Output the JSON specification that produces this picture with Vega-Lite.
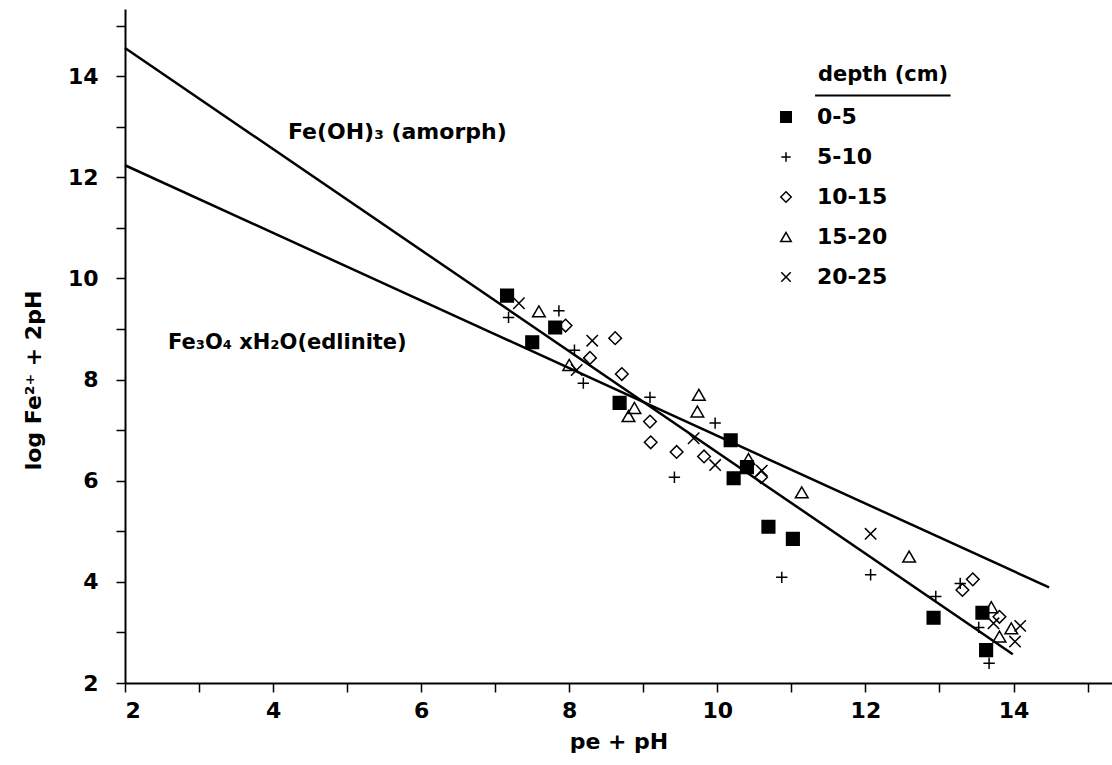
{
  "$schema": "https://vega.github.io/schema/vega-lite/v6.json",
  "width": 987,
  "height": 674,
  "autosize": {"type": "none"},
  "padding": {"left": 125, "top": 9, "right": 0, "bottom": 82},
  "background": "white",
  "config": {
    "view": {"stroke": null},
    "font": "DejaVu Sans",
    "axis": {
      "grid": false,
      "domainColor": "black",
      "domainWidth": 2,
      "tickColor": "black",
      "tickWidth": 1.5,
      "tickSize": 9,
      "labelFont": "DejaVu Sans",
      "labelFontSize": 22,
      "labelFontWeight": "bold",
      "labelColor": "black",
      "titleFont": "DejaVu Sans",
      "titleFontSize": 22,
      "titleFontWeight": "bold",
      "titleColor": "black"
    }
  },
  "datasets": {
    "points": [
      {"depth": "0-5", "pe_pH": 7.16, "logFe": 9.66},
      {"depth": "0-5", "pe_pH": 7.81, "logFe": 9.03},
      {"depth": "0-5", "pe_pH": 7.50, "logFe": 8.74},
      {"depth": "0-5", "pe_pH": 8.68, "logFe": 7.54},
      {"depth": "0-5", "pe_pH": 10.18, "logFe": 6.80},
      {"depth": "0-5", "pe_pH": 10.22, "logFe": 6.05},
      {"depth": "0-5", "pe_pH": 10.40, "logFe": 6.27},
      {"depth": "0-5", "pe_pH": 10.69, "logFe": 5.09},
      {"depth": "0-5", "pe_pH": 11.02, "logFe": 4.85},
      {"depth": "0-5", "pe_pH": 12.92, "logFe": 3.29},
      {"depth": "0-5", "pe_pH": 13.58, "logFe": 3.39},
      {"depth": "0-5", "pe_pH": 13.63, "logFe": 2.65},
      {"depth": "5-10", "pe_pH": 7.18, "logFe": 9.23},
      {"depth": "5-10", "pe_pH": 7.86, "logFe": 9.36},
      {"depth": "5-10", "pe_pH": 8.07, "logFe": 8.58},
      {"depth": "5-10", "pe_pH": 8.19, "logFe": 7.93},
      {"depth": "5-10", "pe_pH": 9.09, "logFe": 7.65},
      {"depth": "5-10", "pe_pH": 9.97, "logFe": 7.14},
      {"depth": "5-10", "pe_pH": 9.42, "logFe": 6.07},
      {"depth": "5-10", "pe_pH": 10.87, "logFe": 4.09},
      {"depth": "5-10", "pe_pH": 12.07, "logFe": 4.14},
      {"depth": "5-10", "pe_pH": 12.95, "logFe": 3.71},
      {"depth": "5-10", "pe_pH": 13.28, "logFe": 3.97},
      {"depth": "5-10", "pe_pH": 13.53, "logFe": 3.10},
      {"depth": "5-10", "pe_pH": 13.67, "logFe": 2.39},
      {"depth": "10-15", "pe_pH": 7.95, "logFe": 9.07},
      {"depth": "10-15", "pe_pH": 8.62, "logFe": 8.82},
      {"depth": "10-15", "pe_pH": 8.28, "logFe": 8.43},
      {"depth": "10-15", "pe_pH": 8.71, "logFe": 8.11},
      {"depth": "10-15", "pe_pH": 9.09, "logFe": 7.17},
      {"depth": "10-15", "pe_pH": 9.10, "logFe": 6.76},
      {"depth": "10-15", "pe_pH": 9.45, "logFe": 6.57},
      {"depth": "10-15", "pe_pH": 9.82, "logFe": 6.48},
      {"depth": "10-15", "pe_pH": 10.59, "logFe": 6.07},
      {"depth": "10-15", "pe_pH": 13.45, "logFe": 4.05},
      {"depth": "10-15", "pe_pH": 13.31, "logFe": 3.84},
      {"depth": "10-15", "pe_pH": 13.81, "logFe": 3.31},
      {"depth": "15-20", "pe_pH": 7.59, "logFe": 9.35},
      {"depth": "15-20", "pe_pH": 8.00, "logFe": 8.29},
      {"depth": "15-20", "pe_pH": 8.88, "logFe": 7.44},
      {"depth": "15-20", "pe_pH": 8.80, "logFe": 7.28},
      {"depth": "15-20", "pe_pH": 9.75, "logFe": 7.70},
      {"depth": "15-20", "pe_pH": 9.73, "logFe": 7.37},
      {"depth": "15-20", "pe_pH": 10.42, "logFe": 6.43},
      {"depth": "15-20", "pe_pH": 11.14, "logFe": 5.77},
      {"depth": "15-20", "pe_pH": 12.59, "logFe": 4.50},
      {"depth": "15-20", "pe_pH": 13.70, "logFe": 3.50},
      {"depth": "15-20", "pe_pH": 13.81, "logFe": 2.92},
      {"depth": "15-20", "pe_pH": 13.97, "logFe": 3.08},
      {"depth": "20-25", "pe_pH": 7.32, "logFe": 9.51},
      {"depth": "20-25", "pe_pH": 8.31, "logFe": 8.77},
      {"depth": "20-25", "pe_pH": 8.10, "logFe": 8.19},
      {"depth": "20-25", "pe_pH": 9.68, "logFe": 6.84},
      {"depth": "20-25", "pe_pH": 9.97, "logFe": 6.31},
      {"depth": "20-25", "pe_pH": 10.60, "logFe": 6.20},
      {"depth": "20-25", "pe_pH": 12.07, "logFe": 4.95},
      {"depth": "20-25", "pe_pH": 13.73, "logFe": 3.18},
      {"depth": "20-25", "pe_pH": 14.09, "logFe": 3.13},
      {"depth": "20-25", "pe_pH": 14.02, "logFe": 2.82}
    ],
    "lines": [
      {"phase": "Fe(OH)3", "pe_pH": 2, "logFe": 14.56},
      {"phase": "Fe(OH)3", "pe_pH": 13.99, "logFe": 2.57},
      {"phase": "Fe3O4", "pe_pH": 2, "logFe": 12.24},
      {"phase": "Fe3O4", "pe_pH": 14.48, "logFe": 3.89}
    ],
    "one": [{}]
  },
  "layer": [
    {
      "data": {"name": "lines"},
      "mark": {"type": "line", "color": "black", "strokeWidth": 2.5},
      "encoding": {
        "x": {
          "field": "pe_pH", "type": "quantitative",
          "scale": {"domain": [2, 15.33], "nice": false, "zero": false},
          "axis": {
            "title": "pe + pH",
            "values": [2, 3, 4, 5, 6, 7, 8, 9, 10, 11, 12, 13, 14, 15],
            "format": "d",
            "labelExpr": "datum.value % 2 == 0 ? datum.label : ''",
            "labelPadding": 8,
            "titlePadding": 10
          }
        },
        "y": {
          "field": "logFe", "type": "quantitative",
          "scale": {"domain": [2, 15.33], "nice": false, "zero": false},
          "axis": {
            "title": "log Fe²⁺ + 2pH",
            "values": [2, 3, 4, 5, 6, 7, 8, 9, 10, 11, 12, 13, 14, 15],
            "format": "d",
            "labelExpr": "datum.value % 2 == 0 ? datum.label : ''",
            "labelPadding": 18,
            "titlePadding": 22,
            "titleY": 371
          }
        },
        "detail": {"field": "phase"}
      }
    },
    {
      "data": {"name": "points"},
      "mark": {"type": "point", "filled": true, "stroke": "black", "strokeWidth": 1.5, "size": 160, "opacity": 1},
      "encoding": {
        "x": {"field": "pe_pH", "type": "quantitative"},
        "y": {"field": "logFe", "type": "quantitative"},
        "shape": {
          "field": "depth", "type": "nominal",
          "scale": {
            "domain": ["0-5", "5-10", "10-15", "15-20", "20-25"],
            "range": ["square", "M-0.9,0H0.9M0,-0.9V0.9", "diamond", "triangle-up", "M-0.9,-0.9L0.9,0.9M-0.9,0.9L0.9,-0.9"]
          },
          "legend": {
            "title": null,
            "orient": "none",
            "legendX": 650,
            "legendY": 97,
            "padding": 0,
            "symbolSize": 110,
            "labelFont": "DejaVu Sans",
            "labelFontSize": 22,
            "labelFontWeight": "bold",
            "labelColor": "black",
            "labelOffset": 20,
            "rowPadding": 18,
            "encode": {
              "symbols": {
                "update": {
                  "stroke": {"value": "black"},
                  "strokeWidth": {"value": 1.3},
                  "opacity": {"value": 1}
                }
              }
            }
          }
        },
        "fill": {
          "field": "depth", "type": "nominal",
          "scale": {
            "domain": ["0-5", "5-10", "10-15", "15-20", "20-25"],
            "range": ["black", "transparent", "transparent", "transparent", "transparent"]
          },
          "legend": {
            "title": null,
            "orient": "none",
            "legendX": 650,
            "legendY": 97,
            "padding": 0,
            "symbolSize": 110,
            "labelFont": "DejaVu Sans",
            "labelFontSize": 22,
            "labelFontWeight": "bold",
            "labelColor": "black",
            "labelOffset": 20,
            "rowPadding": 18,
            "encode": {
              "symbols": {
                "update": {
                  "stroke": {"value": "black"},
                  "strokeWidth": {"value": 1.3},
                  "opacity": {"value": 1}
                }
              }
            }
          }
        }
      }
    },
    {
      "data": {"name": "one"},
      "mark": {"type": "text", "font": "DejaVu Sans", "fontSize": 22, "fontWeight": "bold", "align": "left", "baseline": "alphabetic", "color": "black"},
      "encoding": {
        "x": {"datum": 4.2, "type": "quantitative"},
        "y": {"datum": 12.75, "type": "quantitative"},
        "text": {"value": "Fe(OH)₃ (amorph)"}
      }
    },
    {
      "data": {"name": "one"},
      "mark": {"type": "text", "font": "DejaVu Sans", "fontSize": 21, "fontWeight": "bold", "align": "left", "baseline": "alphabetic", "color": "black"},
      "encoding": {
        "x": {"datum": 2.58, "type": "quantitative"},
        "y": {"datum": 8.6, "type": "quantitative"},
        "text": {"value": "Fe₃O₄ xH₂O(edlinite)"}
      }
    },
    {
      "data": {"name": "one"},
      "mark": {"type": "text", "font": "DejaVu Sans", "fontSize": 21, "fontWeight": "bold", "align": "left", "baseline": "middle", "color": "black"},
      "encoding": {
        "x": {"datum": 11.36, "type": "quantitative"},
        "y": {"datum": 14.03, "type": "quantitative"},
        "text": {"value": "depth (cm)"}
      }
    },
    {
      "data": {"name": "one"},
      "mark": {"type": "rule", "color": "black", "strokeWidth": 2},
      "encoding": {
        "x": {"datum": 11.32, "type": "quantitative"},
        "x2": {"datum": 13.15},
        "y": {"datum": 13.62, "type": "quantitative"}
      }
    }
  ]
}
